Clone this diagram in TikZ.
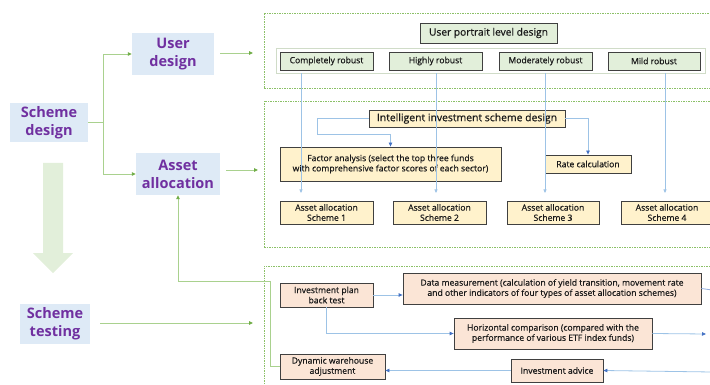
\documentclass[tikz,border=0pt]{standalone}
\usepackage{fontspec}
\setmainfont{Open Sans}
\newfontfamily\boxfont[FakeBold=0.6]{Open Sans}
\usetikzlibrary{arrows.meta}
\definecolor{lblue}{HTML}{DEEAF6}
\definecolor{purp}{HTML}{7030A0}
\definecolor{lgreen}{HTML}{E2EFDA}
\definecolor{gline}{HTML}{A9D18E}
\definecolor{ghead}{HTML}{70AD47}
\definecolor{dashg}{HTML}{8CC068}
\definecolor{lyel}{HTML}{FFF2CC}
\definecolor{lpeach}{HTML}{FBE5D6}
\definecolor{bline}{HTML}{9DC3E6}
\definecolor{bline2}{HTML}{8FAADC}
\definecolor{bhead}{HTML}{4472C4}
\definecolor{dgray}{HTML}{404040}
\definecolor{txt}{HTML}{1A1A1A}
\definecolor{rowc}{HTML}{D0DCC8}
\begin{document}
\begin{tikzpicture}[x=1pt,y=-1pt,
  lbox/.style={fill=lblue, text=purp, font=\fontsize{14.5}{18}\selectfont\bfseries, align=center, inner sep=0pt},
  cbox/.style={draw=dgray, line width=0.8pt, text=txt, font=\boxfont\fontsize{8.6}{10.2}\selectfont, align=center, inner sep=0pt},
  gbox/.style={cbox, fill=lgreen},
  ybox/.style={cbox, fill=lyel},
  pbox/.style={cbox, fill=lpeach},
  garrow/.style={draw=gline, line width=0.9pt, -{Triangle[length=4pt,width=3.5pt,color=ghead]}},
  gplain/.style={draw=gline, line width=0.9pt},
  barrow/.style={draw=bline, line width=0.8pt, -{Triangle[length=4pt,width=3.5pt,color=bhead]}},
  barrowv/.style={draw=bline, line width=0.6pt, -{Triangle[length=3.5pt,width=3pt,color=bline]}},
  bplain/.style={draw=bline2, line width=0.8pt},
  dbox/.style={draw=dashg, line width=0.7pt, dash pattern=on 1.5pt off 1pt}
]
\useasboundingbox (0,0) rectangle (710,385);
\clip (0,0) rectangle (710,385);

% big arrow
\fill[lgreen] (43,163) -- (63,163) -- (63,253) -- (73,253) -- (53,273) -- (33,253) -- (43,253) -- cycle;

% left nodes
\node[lbox, minimum width=82pt, minimum height=42pt] (user) at (173,54) {User\\design};
\node[lbox, minimum width=78pt, minimum height=39pt] (sdesign) at (49,122.5) {Scheme\\design};
\node[lbox, minimum width=84pt, minimum height=42pt] (asset) at (178,174) {Asset\\allocation};
\node[lbox, minimum width=70pt, minimum height=40pt] (stest) at (55,324) {Scheme\\testing};

% dashed containers
\node[dbox, minimum width=451pt, minimum height=75pt] (d1) at (489.5,50.5) {};
\node[dbox, minimum width=451pt, minimum height=146pt] (d2) at (489.5,174) {};
\node[dbox, minimum width=451pt, minimum height=124pt] (d3) at (489.5,328) {};

% top box
\node[gbox, minimum width=137pt, minimum height=20pt, font=\boxfont\fontsize{10.2}{12}\selectfont] (upl) at (488.5,33) {User portrait level design};
\node[draw=rowc, line width=0.8pt, minimum width=429pt, minimum height=25pt, inner sep=0pt] (row) at (490.5,60.5) {};
\node[gbox, minimum width=93pt, minimum height=18pt] (cr) at (326.5,61) {Completely robust};
\node[gbox, minimum width=93pt, minimum height=18pt] (hr) at (435.5,61) {Highly robust};
\node[gbox, minimum width=93pt, minimum height=18pt] (mr) at (545.5,61) {Moderately robust};
\node[gbox, minimum width=92pt, minimum height=18pt] (mild) at (654,61) {Mild robust};

% middle box
\node[ybox, minimum width=196pt, minimum height=17pt, font=\boxfont\fontsize{10.4}{12}\selectfont] (isd) at (467,118.5) {Intelligent investment scheme design};
\node[ybox, minimum width=221pt, minimum height=34pt] (fa) at (390.5,164) {Factor analysis (select the top three funds\\with comprehensive factor scores of each sector)};
\node[ybox, minimum width=86pt, minimum height=18pt] (rc) at (588,164) {Rate calculation};
\node[ybox, minimum width=93pt, minimum height=23pt] (s1) at (326.5,212.5) {Asset allocation\\Scheme 1};
\node[ybox, minimum width=93pt, minimum height=23pt] (s2) at (439.5,212.5) {Asset allocation\\Scheme 2};
\node[ybox, minimum width=92pt, minimum height=23pt] (s3) at (553,212.5) {Asset allocation\\Scheme 3};
\node[ybox, minimum width=92pt, minimum height=23pt] (s4) at (667,212.5) {Asset allocation\\Scheme 4};

% bottom box
\node[pbox, minimum width=93pt, minimum height=24pt] (ipbt) at (326.5,295) {Investment plan\\back test};
\node[pbox, minimum width=298pt, minimum height=31pt] (dm) at (552,288.5) {Data measurement (calculation of yield transition, movement rate\\and other indicators of four types of asset allocation schemes)};
\node[pbox, minimum width=198pt, minimum height=31pt] (hc) at (553,333.5) {Horizontal comparison (compared with the\\performance of various ETF index funds)};
\node[pbox, minimum width=105pt, minimum height=25pt] (dwa) at (332.5,366.5) {Dynamic warehouse\\adjustment};
\node[pbox, minimum width=92pt, minimum height=23pt] (ia) at (557,370.5) {Investment advice};

% coordinates
\coordinate (ua) at (253,53);
\coordinate (aa) at (258,170);
\coordinate (ta) at (253,323);
\coordinate (v1) at (301,193);
\coordinate (v2) at (436,193);
\coordinate (v3) at (545,193);
\coordinate (v4) at (665,193);
\coordinate (dmR) at (712,290);
\coordinate (hcR) at (706,334);
\coordinate (iaR) at (712,372);

% green connectors
\draw[garrow] (sdesign.east) -- (103,122.5) |- (user.west);
\draw[garrow] (sdesign.east) -- (103,122.5) |- (asset.west);
\draw[garrow] (220,53) -- (ua);
\draw[garrow] (226,170) -- (aa);
\draw[garrow] (100,323) -- (ta);
\draw[garrow] (dwa.west) -| (270,281) -| (asset.south);

% blue vertical lines
\draw[barrowv] (row.south -| v1) -- (v1);
\draw[barrowv] (row.south -| v2) -- (v2);
\draw[barrowv] (row.south -| v3) -- (v3);
\draw[barrowv] (row.south -| v4) -- (v4);

% middle connectors
\draw[barrow] (isd.west) -- (317,118.5) -- (317,134) -| (fa.north);
\draw[barrow] (isd.east) -| (rc.north);

% bottom connectors
\draw[barrow] (ipbt.east) -- (ipbt.east -| dm.west);
\draw[barrow] (ipbt.south) |- (hc.west);
\draw[bplain] (dm.east) -- (dmR);
\draw[barrow] (hc.east) -- (hcR);
\draw[barrow] (iaR) -- (ia.east);
\draw[barrow] (ia.west) -- (ia.west -| dwa.east);
\end{tikzpicture}
\end{document}
